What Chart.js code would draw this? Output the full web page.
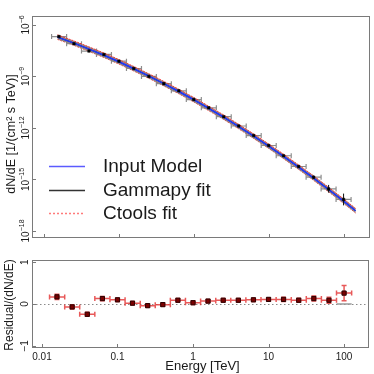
<!DOCTYPE html>
<html><head><meta charset="utf-8">
<script src="https://cdn.jsdelivr.net/npm/chart.js@4"></script>
<style>
html,body{margin:0;padding:0;background:#fff;overflow:hidden}
#wrap{position:relative;width:374px;height:374px;background:#fff}
canvas{position:absolute;left:0}
#c1{top:0}
#c2{top:250px}
</style></head><body>
<div id="wrap"><canvas id="c1" width="374" height="250"></canvas><canvas id="c2" width="374" height="124"></canvas></div>
<script>
// ---- data ----
const energies = [0.0158, 0.0251, 0.0398, 0.0631, 0.1, 0.158, 0.251, 0.398, 0.631, 1.0,
                  1.58, 2.51, 3.98, 6.31, 10.0, 15.8, 25.1, 39.8, 63.1, 100.0];
const binLow  = [0.0126, 0.02, 0.0316, 0.0501, 0.0794, 0.126, 0.2, 0.316, 0.501, 0.794,
                 1.26, 2.0, 3.16, 5.01, 7.94, 12.6, 20.0, 31.6, 50.1, 79.4];
const binHigh = [0.02, 0.0316, 0.0501, 0.0794, 0.126, 0.2, 0.316, 0.501, 0.794, 1.26,
                 2.0, 3.16, 5.01, 7.94, 12.6, 20.0, 31.6, 50.1, 79.4, 126.0];
const flux = [2.1e-7, 8.1e-8, 3.0e-8, 1.9e-8, 7.7e-9, 2.9e-9, 1.0e-9, 3.8e-10, 1.45e-10, 4.5e-11,
              1.48e-11, 4.5e-12, 1.3e-12, 3.6e-13, 9.5e-14, 2.4e-14, 5.7e-15, 1.35e-15, 2.8e-16, 6.9e-17];
const fluxLow  = [1.9e-7, 7.5e-8, 2.75e-8, 1.75e-8, 7.1e-9, 2.65e-9, 0.92e-9, 3.5e-10, 1.33e-10, 4.1e-11,
                  1.36e-11, 4.1e-12, 1.19e-12, 3.3e-13, 8.6e-14, 2.15e-14, 5.0e-15, 1.08e-15, 1.7e-16, 3.1e-17];
const fluxHigh = [2.3e-7, 8.8e-8, 3.25e-8, 2.05e-8, 8.3e-9, 3.15e-9, 1.08e-9, 4.1e-10, 1.57e-10, 4.9e-11,
                  1.6e-11, 4.9e-12, 1.41e-12, 3.9e-13, 1.04e-13, 2.65e-14, 6.4e-15, 1.7e-15, 4.8e-16, 1.5e-16];
const modelEnergies = [0.0151, 0.0251, 0.0398, 0.0631, 0.1, 0.158, 0.251, 0.398, 0.631, 1.0,
                       1.58, 2.51, 3.98, 6.31, 10.0, 15.8, 25.1, 39.8, 63.1, 100.0, 145.0];
const inputModel = [1.95e-7, 8.7e-8, 3.9e-8, 1.7e-8, 7.1e-9, 2.8e-9, 1.05e-9, 3.8e-10, 1.32e-10, 4.4e-11,
                    1.38e-11, 4.2e-12, 1.2e-12, 3.3e-13, 8.7e-14, 2.2e-14, 5.2e-15, 1.2e-15, 2.6e-16, 5.5e-17, 1.5e-17];
const gammapyFit = [1.95e-7, 8.7e-8, 3.9e-8, 1.7e-8, 7.1e-9, 2.8e-9, 1.05e-9, 3.8e-10, 1.32e-10, 4.4e-11,
                    1.38e-11, 4.2e-12, 1.2e-12, 3.3e-13, 8.7e-14, 2.2e-14, 5.2e-15, 1.2e-15, 2.6e-16, 5.5e-17, 1.5e-17];
const ctoolsHigh = [2.63e-7, 1.17e-7, 5.27e-8, 2.3e-8, 9.6e-9, 3.78e-9, 1.42e-9, 5.13e-10, 1.78e-10, 5.94e-11,
                    1.86e-11, 5.67e-12, 1.62e-12, 4.46e-13, 1.17e-13, 2.97e-14, 7.02e-15, 1.62e-15, 3.51e-16, 7.43e-17, 2.03e-17];
const ctoolsLow  = [1.44e-7, 6.44e-8, 2.89e-8, 1.26e-8, 5.25e-9, 2.07e-9, 7.77e-10, 2.81e-10, 9.77e-11, 3.26e-11,
                    1.02e-11, 3.11e-12, 8.88e-13, 2.44e-13, 6.44e-14, 1.63e-14, 3.85e-15, 8.88e-16, 1.92e-16, 4.07e-17, 1.11e-17];
const residual    = [0.17, -0.07, -0.245, 0.13, 0.10, 0.02, -0.04, -0.015, 0.09, 0.03,
                     0.07, 0.09, 0.09, 0.10, 0.11, 0.11, 0.09, 0.13, 0.09, 0.26];
const residualErr = [0.06, 0.05, 0.05, 0.05, 0.04, 0.04, 0.04, 0.04, 0.04, 0.04,
                     0.04, 0.04, 0.04, 0.04, 0.04, 0.05, 0.05, 0.06, 0.07, 0.18];
const xTicks = [0.01, 0.1, 1, 10, 100];
const xTickLabels = ['0.01', '0.1', '1', '10', '100'];
const fluxTicks = [1e-18, 1e-15, 1e-12, 1e-9, 1e-6];
const fluxTickExps = ['\u221218', '\u221215', '\u221212', '\u22129', '\u22126'];
const residTicks = [-1, 0, 1];
const residTickLabels = ['\u22121', '0', '1'];
const legendLabels = ['Input Model', 'Gammapy fit', 'Ctools fit'];

// ---- styling ----
const FONT = '"Liberation Sans", Arial, Helvetica, sans-serif';
const FRAME = '#7a7a7a';
const TXT = '#1a1a1a';
const BLUE = '#2233ff';

const pts = (xs, ys) => xs.map((x, i) => ({x: x, y: ys[i]}));

function drawFrameAndTicks(chart, xs, ys) {
  const {ctx, chartArea: a, scales} = chart;
  ctx.save();
  ctx.strokeStyle = FRAME; ctx.lineWidth = 1;
  ctx.strokeRect(Math.round(a.left) + 0.5, Math.round(a.top) + 0.5,
                 Math.round(a.right - a.left) - 1, Math.round(a.bottom - a.top) - 1);
  ctx.beginPath();
  xs.forEach(v => { const px = Math.round(scales.x.getPixelForValue(v)) + 0.5;
    ctx.moveTo(px, a.bottom); ctx.lineTo(px, a.bottom - 4); });
  ys.forEach(v => { const py = Math.round(scales.y.getPixelForValue(v)) + 0.5;
    ctx.moveTo(a.left, py); ctx.lineTo(a.left + 4, py); });
  ctx.stroke();
  ctx.restore();
}

function rotText(ctx, text, x, y, font) {
  ctx.save(); ctx.translate(x, y); ctx.rotate(-Math.PI / 2);
  ctx.font = font; ctx.textAlign = 'center'; ctx.textBaseline = 'middle';
  ctx.fillText(text, 0, 0); ctx.restore();
}

function xErrBars(ctx, xs, lo, hi, ys, color, cap, width) {
  ctx.save(); ctx.strokeStyle = color; ctx.lineWidth = width; ctx.beginPath();
  ys.forEach((py, i) => {
    const x1 = xs.getPixelForValue(lo[i]), x2 = xs.getPixelForValue(hi[i]);
    ctx.moveTo(x1, py); ctx.lineTo(x2, py);
    ctx.moveTo(x1, py - cap); ctx.lineTo(x1, py + cap);
    ctx.moveTo(x2, py - cap); ctx.lineTo(x2, py + cap);
  });
  ctx.stroke(); ctx.restore();
}

// ---- top chart ----
const topPlugin = {
  id: 'topDecor',
  afterDatasetDraw(chart, args) {
    if (args.index !== 4) return;
    const {ctx, scales} = chart;
    const ys = flux.map(v => scales.y.getPixelForValue(v));
    xErrBars(ctx, scales.x, binLow, binHigh, ys, 'rgba(135,135,135,0.95)', 2.5, 1.2);
  },
  beforeDatasetDraw(chart, args) {
    if (args.index !== 0) return;
    const {ctx, scales} = chart;
    ctx.save(); ctx.strokeStyle = '#111'; ctx.lineWidth = 1; ctx.beginPath();
    energies.forEach((e, i) => {
      const px = scales.x.getPixelForValue(e);
      const y1 = scales.y.getPixelForValue(fluxLow[i]), y2 = scales.y.getPixelForValue(fluxHigh[i]);
      ctx.moveTo(px, y1); ctx.lineTo(px, y2);
    });
    ctx.stroke(); ctx.restore();
  },
  afterDraw(chart) {
    const {ctx, scales} = chart;
    drawFrameAndTicks(chart, xTicks, fluxTicks);
    ctx.save(); ctx.fillStyle = TXT;
    // y tick labels, rotated, 10 with superscript exponent
    fluxTicks.forEach((v, i) => {
      const py = scales.y.getPixelForValue(v);
      ctx.save(); ctx.translate(26.5, py); ctx.rotate(-Math.PI / 2);
      ctx.textBaseline = 'middle'; ctx.textAlign = 'left';
      ctx.font = '10px ' + FONT; const w1 = ctx.measureText('10').width;
      ctx.font = '7px ' + FONT; const w2 = ctx.measureText(fluxTickExps[i]).width;
      const x0 = -(w1 + w2) / 2;
      ctx.font = '10px ' + FONT; ctx.fillText('10', x0, 0);
      ctx.font = '7px ' + FONT; ctx.fillText(fluxTickExps[i], x0 + w1, -4.5);
      ctx.restore();
    });
    rotText(ctx, 'dN/dE [1/(cm\u00B2 s TeV)]', 12, 134, '12.5px ' + FONT);
    // legend
    const rows = [166, 190, 213];
    const styles = [
      {c: '#5b5bff', dash: [], w: 1.3},
      {c: '#333333', dash: [], w: 1.3},
      {c: '#ff7a7a', dash: [2, 2], w: 1.3}
    ];
    rows.forEach((y, i) => {
      ctx.save(); ctx.strokeStyle = styles[i].c; ctx.lineWidth = styles[i].w;
      ctx.setLineDash(styles[i].dash);
      ctx.beginPath(); ctx.moveTo(49, y + 0.5); ctx.lineTo(85, y + 0.5); ctx.stroke(); ctx.restore();
      ctx.font = '19px ' + FONT; ctx.textAlign = 'left'; ctx.textBaseline = 'middle';
      ctx.fillStyle = TXT; ctx.fillText(legendLabels[i], 103, y + 0.5);
    });
    ctx.restore();
  }
};

new Chart(document.getElementById('c1'), {
  type: 'line',
  data: {
    datasets: [
      {label: 'points', data: pts(energies, flux), showLine: false, pointStyle: 'rect',
       pointRadius: 1.8, pointBackgroundColor: '#000', pointBorderColor: '#000', pointBorderWidth: 0.5},
      {label: 'Input Model', data: pts(modelEnergies, inputModel), borderColor: BLUE, borderWidth: 1.5,
       pointRadius: 0, fill: false},
      {label: 'Gammapy fit', data: pts(modelEnergies, gammapyFit), borderColor: '#222', borderWidth: 1,
       pointRadius: 0, fill: false},
      {label: 'Ctools fit high', data: pts(modelEnergies, ctoolsHigh), borderColor: 'rgba(255,40,40,0.9)',
       borderDash: [2, 1], borderWidth: 1, pointRadius: 0, fill: '+1', backgroundColor: 'rgba(125,125,125,0.9)'},
      {label: 'Ctools fit low', data: pts(modelEnergies, ctoolsLow), borderColor: 'rgba(255,40,40,0.9)',
       borderDash: [2, 1], borderWidth: 1, pointRadius: 0, fill: false}
    ]
  },
  options: {
    animation: false, responsive: false, devicePixelRatio: 1, events: [],
    layout: {padding: {top: 16, right: 4, left: 0, bottom: 0}},
    plugins: {legend: {display: false}, tooltip: {enabled: false}},
    scales: {
      x: {type: 'logarithmic', min: 0.0069, max: 222,
          afterBuildTicks: s => { s.ticks = xTicks.map(v => ({value: v})); },
          afterFit: s => { s.height = 12; },
          ticks: {display: false}, grid: {display: false}, border: {display: false}},
      y: {type: 'logarithmic', min: 3.9e-19, max: 3.3e-6,
          afterBuildTicks: s => { s.ticks = fluxTicks.map(v => ({value: v})); },
          afterFit: s => { s.width = 32; },
          ticks: {display: false}, grid: {display: false}, border: {display: false}}
    }
  },
  plugins: [topPlugin]
});

// ---- bottom (residual) chart ----
const botPlugin = {
  id: 'botDecor',
  beforeDatasetsDraw(chart) {
    const {ctx, chartArea: a, scales} = chart;
    const py = Math.round(scales.y.getPixelForValue(0)) + 0.5;
    ctx.save(); ctx.strokeStyle = '#8a8a8a'; ctx.lineWidth = 1; ctx.setLineDash([1.5, 2.5]);
    ctx.beginPath(); ctx.moveTo(a.left, py); ctx.lineTo(a.right, py); ctx.stroke(); ctx.restore();
  },
  beforeDatasetDraw(chart, args) {
    if (args.index !== 0) return;
    const {ctx, scales} = chart;
    const ys = residual.map(v => scales.y.getPixelForValue(v));
    xErrBars(ctx, scales.x, binLow, binHigh, ys, 'rgba(228,60,60,0.85)', 2.5, 1.5);
    ctx.save(); ctx.strokeStyle = 'rgba(228,60,60,0.85)'; ctx.lineWidth = 1.5; ctx.beginPath();
    energies.forEach((e, i) => {
      const px = scales.x.getPixelForValue(e);
      const y1 = scales.y.getPixelForValue(residual[i] - residualErr[i]);
      const y2 = scales.y.getPixelForValue(residual[i] + residualErr[i]);
      ctx.moveTo(px, y1); ctx.lineTo(px, y2);
      ctx.moveTo(px - 2.5, y1); ctx.lineTo(px + 2.5, y1);
      ctx.moveTo(px - 2.5, y2); ctx.lineTo(px + 2.5, y2);
    });
    ctx.stroke(); ctx.restore();
  },
  afterDraw(chart) {
    const {ctx, scales} = chart;
    drawFrameAndTicks(chart, xTicks, residTicks);
    ctx.save(); ctx.fillStyle = TXT;
    residTicks.forEach((v, i) => rotText(ctx, residTickLabels[i], 25, scales.y.getPixelForValue(v), '10px ' + FONT));
    ctx.font = '10px ' + FONT; ctx.textAlign = 'center'; ctx.textBaseline = 'middle';
    xTicks.forEach((v, i) => ctx.fillText(xTickLabels[i], scales.x.getPixelForValue(v), 107.5));
    ctx.font = '13px ' + FONT;
    ctx.fillText('Energy [TeV]', (chart.chartArea.left + chart.chartArea.right) / 2 + 2, 116);
    rotText(ctx, 'Residual/(dN/dE)', 10, 55, '12px ' + FONT);
    ctx.restore();
  }
};

new Chart(document.getElementById('c2'), {
  type: 'line',
  data: {
    datasets: [
      {label: 'Residual', data: pts(energies, residual), showLine: false, pointStyle: 'rect',
       pointRadius: 3, pointBackgroundColor: '#7a0000', pointBorderColor: '#2a0000', pointBorderWidth: 1},
      {label: 'last bin', data: pts([binLow[19], binHigh[19]], [0, 0]), borderColor: '#9a9a9a',
       borderWidth: 1.5, pointRadius: 0, fill: false}
    ]
  },
  options: {
    animation: false, responsive: false, devicePixelRatio: 1, events: [],
    layout: {padding: {top: 10, right: 4, left: 0, bottom: 0}},
    plugins: {legend: {display: false}, tooltip: {enabled: false}},
    scales: {
      x: {type: 'logarithmic', min: 0.00738, max: 213.8,
          afterBuildTicks: s => { s.ticks = xTicks.map(v => ({value: v})); },
          afterFit: s => { s.height = 26; },
          ticks: {display: false}, grid: {display: false}, border: {display: false}},
      y: {type: 'linear', min: -1.05, max: 1.05,
          afterBuildTicks: s => { s.ticks = residTicks.map(v => ({value: v})); },
          afterFit: s => { s.width = 32; },
          ticks: {display: false}, grid: {display: false}, border: {display: false}}
    }
  },
  plugins: [botPlugin]
});
</script>
</body></html>
